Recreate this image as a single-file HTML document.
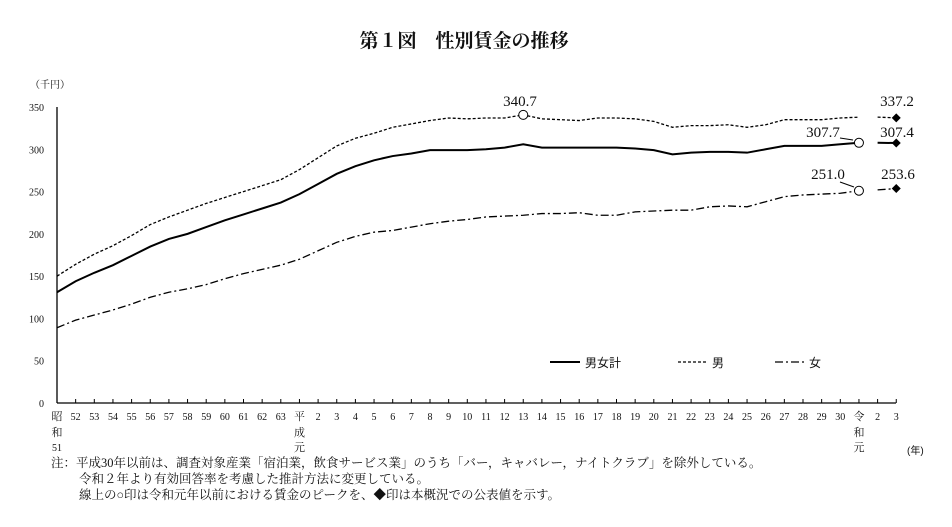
<!DOCTYPE html><html><head><meta charset="utf-8"><style>
body{margin:0;background:#fff}
svg text{font-family:"Liberation Serif","Noto Serif CJK SC",serif;fill:#111}
</style></head><body>
<svg id="s" width="952" height="522" xmlns="http://www.w3.org/2000/svg">
<text x="464" y="47" text-anchor="middle" font-size="19" font-weight="bold" style="font-family:'Liberation Serif','Noto Serif CJK JP',serif">第１図　性別賃金の推移</text>
<text x="30" y="88" font-size="10">（千円）</text>
<line x1="57" y1="107" x2="57" y2="403" stroke="#000" stroke-width="1.3"/>
<line x1="57" y1="403" x2="896" y2="403" stroke="#000" stroke-width="1.3"/>
<g id="g"></g>
<g font-size="15">
<text x="520" y="106" text-anchor="middle">340.7</text>
<text x="823" y="137" text-anchor="middle">307.7</text>
<text x="897" y="137" text-anchor="middle">307.4</text>
<text x="897" y="106" text-anchor="middle">337.2</text>
<text x="828" y="179" text-anchor="middle">251.0</text>
<text x="898" y="179" text-anchor="middle">253.6</text>
</g>
<line x1="840" y1="138" x2="853" y2="140" stroke="#000"/>
<line x1="840" y1="182" x2="854" y2="187" stroke="#000"/>
<line x1="550" y1="362" x2="580" y2="362" stroke="#000" stroke-width="2"/>
<text x="585" y="367" font-size="12" style="font-family:'Liberation Sans','Noto Sans CJK JP',sans-serif">男女計</text>
<line x1="678" y1="362" x2="708" y2="362" stroke="#000" stroke-width="1.3" stroke-dasharray="3,2"/>
<text x="712" y="367" font-size="12" style="font-family:'Liberation Sans','Noto Sans CJK JP',sans-serif">男</text>
<line x1="775" y1="362" x2="805" y2="362" stroke="#000" stroke-width="1.3" stroke-dasharray="8,3,2,3"/>
<text x="809" y="367" font-size="12" style="font-family:'Liberation Sans','Noto Sans CJK JP',sans-serif">女</text>
<text x="907" y="454" font-size="10" style="font-family:'Liberation Sans','Noto Sans CJK JP',sans-serif">(年)</text>
<g font-size="12.5" style="font-family:'Liberation Serif','Noto Serif CJK JP',serif">
<text x="51" y="467">注：平成30年以前は、調査対象産業「宿泊業，飲食サービス業」のうち「バー，キャバレー，ナイトクラブ」を除外している。</text>
<text x="79" y="483">令和２年より有効回答率を考慮した推計方法に変更している。</text>
<text x="79" y="499">線上の○印は令和元年以前における賃金のピークを、◆印は本概況での公表値を示す。</text>
</g>
</svg>
<script>
var g=document.getElementById('g'),h='';
function X(i){return 57+i*18.65}function Y(v){return 403-v*0.8457}
for(var v=0;v<=350;v+=50){h+='<text x="44" y="'+(Y(v)+4)+'" font-size="10" text-anchor="end">'+v+'</text>';}
var labs=[];for(var i=51;i<=63;i++)labs.push(i);labs.push('平');for(i=2;i<=30;i++)labs.push(i);labs.push('令');labs.push(2);labs.push(3);
for(i=0;i<46;i++){var x=X(i);if(i>0)h+='<line x1="'+x+'" y1="403" x2="'+x+'" y2="399" stroke="#000"/>';
var l=labs[i];if(i==0){h+='<text x="'+x+'" y="420" font-size="11" text-anchor="middle">昭</text><text x="'+x+'" y="436" font-size="11" text-anchor="middle">和</text><text x="'+x+'" y="451" font-size="10" text-anchor="middle">51</text>';}
else if(l=='平'){h+='<text x="'+x+'" y="420" font-size="11" text-anchor="middle">平</text><text x="'+x+'" y="436" font-size="11" text-anchor="middle">成</text><text x="'+x+'" y="451" font-size="11" text-anchor="middle">元</text>';}
else if(l=='令'){h+='<text x="'+x+'" y="420" font-size="11" text-anchor="middle">令</text><text x="'+x+'" y="436" font-size="11" text-anchor="middle">和</text><text x="'+x+'" y="451" font-size="11" text-anchor="middle">元</text>';}
else h+='<text x="'+x+'" y="420" font-size="10" text-anchor="middle">'+l+'</text>';}
var T=[131,144,154,163,174,185,194,200,208,216,223,230,237,247,259,271,280,287,292,295,299,299,299,300,302,306,302,302,302,302,302,301,299,294,296,297,297,296,300,304,304,304,306,307.7,307.7,307.4];
var M=[150,164,176,186,198,211,220,228,236,243,250,257,264,276,290,304,313,319,326,330,334,337,336,337,337,340.7,336,335,334,337,337,336,333,326,328,328,329,326,329,335,335,335,337,338,338,337.2];
var F=[89,98,104,110,117,125,131,135,140,147,153,158,163,170,180,190,197,202,204,208,212,215,217,220,221,222,224,224,225,222,222,226,227,228,228,232,233,232,238,244,246,247,248,251.0,252,253.6];
function pl(a,st){var p='';for(var i=0;i<=43;i++)p+=X(i)+','+Y(a[i])+' ';
h+='<polyline points="'+p+'" fill="none" stroke="#000" '+st+'/>';
h+='<polyline points="'+X(44)+','+Y(a[44])+' '+X(45)+','+Y(a[45])+'" fill="none" stroke="#000" '+st+'/>';
var x=X(45),y=Y(a[45]);h+='<polygon points="'+x+','+(y-4.5)+' '+(x+4.5)+','+y+' '+x+','+(y+4.5)+' '+(x-4.5)+','+y+'"/>';}
pl(T,'stroke-width="2"');pl(M,'stroke-width="1.3" stroke-dasharray="3,2"');pl(F,'stroke-width="1.3" stroke-dasharray="8,3,2,3"');
function c(i,v){h+='<circle cx="'+X(i)+'" cy="'+Y(v)+'" r="4.5" fill="#fff" stroke="#000"/>';}
c(25,340.7);c(43,307.7);c(43,251.0);
g.innerHTML=h;
</script>
</body></html>
